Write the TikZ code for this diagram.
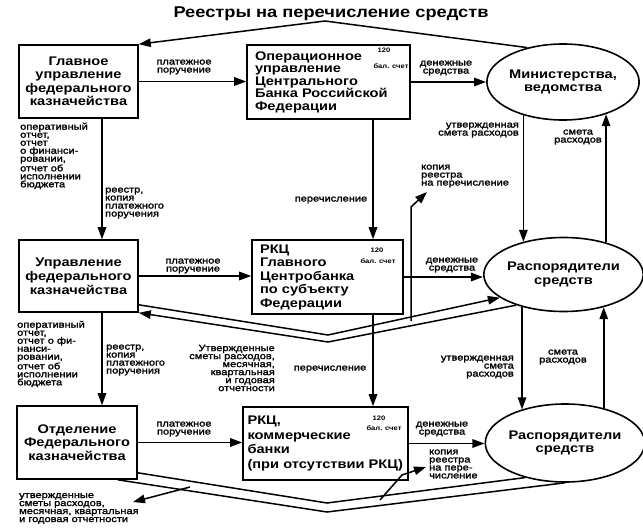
\documentclass[tikz,border=0pt]{standalone}
\usepackage{fontspec}
\setmainfont{Liberation Sans}[FakeStretch=1.17]
\newfontfamily\lblfont{Liberation Sans}[FakeStretch=1.2,FakeBold=1.8]
\usetikzlibrary{arrows.meta,shapes.geometric,calc}
\begin{document}
\begin{tikzpicture}[x=1pt,y=-1pt,
  box/.style={draw,line width=1.6pt,rectangle,inner sep=0pt,font=\bfseries\fontsize{12.5}{13.5}\selectfont},
  ell/.style={draw,line width=1.6pt,ellipse,inner sep=0pt,align=center,font=\bfseries\fontsize{12.5}{13.5}\selectfont},
  lbl/.style={inner sep=0pt,font=\lblfont\fontsize{9.2}{8}\selectfont},
  num/.style={inner sep=0pt,font=\bfseries\fontsize{6.5}{7}\selectfont},
  tip/.style={-{Triangle[length=12pt,width=8.5pt]}},
  ln/.style={line width=1.5pt},
  arr/.style={ln,tip}]
\useasboundingbox (0,0) rectangle (643,532);

% title
\node[font=\bfseries\fontsize{15.6}{17}\selectfont,inner sep=0pt] (title) at (331,14) {Реестры на перечисление средств};

% boxes
\node[box,minimum width=119pt,minimum height=73pt,align=center] (b1) at (78.5,81.5) {Главное\\управление\\федерального\\казначейства};
\node[box,minimum height=74pt,text width=147pt,inner xsep=8pt,align=left,font=\bfseries\fontsize{12.5}{12.5}\selectfont] (b2) at (328.5,82) {Операционное\\управление\\Центрального\\Банка Российской\\Федерации};
\node[box,minimum width=119pt,minimum height=72pt,align=center,font=\bfseries\fontsize{12.5}{14}\selectfont] (b3) at (78.5,276) {Управление\\федерального\\казначейства};
\node[box,minimum height=74pt,text width=135pt,inner xsep=8pt,align=left] (b4) at (327.5,277) {РКЦ\\Главного\\Центробанка\\по субъекту\\Федерации};
\node[box,minimum width=120pt,minimum height=73pt,align=center] (b5) at (77,442.5) {Отделение\\Федерального\\казначейства};
\node[box,minimum height=73pt,text width=156pt,inner xsep=4.5pt,align=left,font=\bfseries\fontsize{12.5}{14.5}\selectfont] (b6) at (325.5,443.5) {РКЦ,\\коммерческие\\банки\\(при~отсутствии~РКЦ)};

% ellipses
\node[ell,minimum width=140pt,minimum height=76pt] (e1) at (563,82) {Министерства,\\ведомства};
\node[ell,minimum width=143pt,minimum height=74pt] (e2) at (563.5,274.5) {Распорядители\\средств};
\node[ell,minimum width=144pt,minimum height=78pt] (e3) at (565,443) {Распорядители\\средств};

% account numbers
\node[num] (n1a) at (384,50) {120};
\node[num] (n1b) at (391,66) {бал. счет};
\node[num] (n2a) at (377,250) {120};
\node[num] (n2b) at (378,261) {бал. счет};
\node[num] (n3a) at (379,418) {120};
\node[num] (n3b) at (384,428) {бал. счет};

% coordinates
\coordinate (tpk) at (325,21);
\coordinate (xL) at (102,0);
\coordinate (xM) at (373,0);
\coordinate (mA) at (328,335);
\coordinate (mB) at (328,342);
\coordinate (mC) at (327,503);
\coordinate (mD) at (327,512);
\coordinate (cA) at (411,321);
\coordinate (cB) at (411,207);
\coordinate (cC) at (427,192);
\coordinate (a1) at (190,487);
\coordinate (a2) at (133,502);
\coordinate (a3) at (380,500);
\coordinate (a4) at (402,475);
\coordinate (a5) at (426,467);

% connectors
\draw[arr] (e1.136) -- (tpk) -- (b1.north east);
\draw[arr] (b1.east) -- (b1.east -| b2.west);
\draw[arr] (b2.east) -- (b2.east -| e1.west);
\draw[arr] (b3.east) -- (b3.east -| b4.west);
\draw[arr] (b4.east) -- (b4.east -| e2.west);
\draw[arr] (b5.east) -- (b5.east -| b6.west);
\draw[arr] (b6.east) -- (b6.east -| e3.west);

\draw[arr] (b1.south -| xL) -- (b3.north -| xL);
\draw[arr] (b3.south -| xL) -- (b5.north -| xL);
\draw[arr] (b2.south -| xM) -- (b4.north -| xM);
\draw[arr] (b4.south -| xM) -- (b6.north -| xM);

\draw[arr] (e1.220) -- (e1.220 |- e2.141);
\draw[arr] (e2.37) -- (e2.37 |- e1.-37);
\draw[arr] (e2.218) -- (e2.218 |- e3.142);
\draw[arr] (e3.42) -- (e3.42 |- e2.-39);

\draw[arr] ($(b3.south east)+(0,-8)$) -- (mA) -- (e2.200);
\draw[arr] (e2.213) -- (mB) -- (b3.south east);
\draw[ln] ($(b5.south east)+(0,-7)$) -- (mC) -- (e3.221);
\draw[ln] ($(b5.south east)+(-20,0)$) -- (mD) -- (e3.south);

\draw[arr] (cA) -- (cB) -- (cC);
\draw[arr] (a1) -- (a2);
\draw[arr] (a3) -- (a4) -- (a5);

% labels
\node[lbl,align=center] (l1) at (184,67) {платежное\\поручение};
\node[lbl,align=center] (l2) at (446,68) {денежные\\средства};
\node[lbl,align=left,anchor=west] (l3) at (20,156) {оперативный\\отчет,\\отчет\\о финанси-\\ровании,\\отчет об\\исполнении\\бюджета};
\node[lbl,align=left,anchor=west] (l4) at (105,203) {реестр,\\копия\\платежного\\поручения};
\node[lbl] (l5) at (331,200) {перечисление};
\node[lbl,align=right,anchor=east] (l6) at (519,130) {утвержденная\\смета расходов};
\node[lbl,align=center] (l7) at (578,137) {смета\\расходов};
\node[lbl,align=left,anchor=west] (l8) at (421,176) {копия\\реестра\\на перечисление};
\node[lbl,align=center] (l9) at (193,266) {платежное\\поручение};
\node[lbl,align=center] (l10) at (452,265) {денежные\\средства};
\node[lbl,align=left,anchor=west] (l11) at (17,354) {оперативный\\отчет,\\отчет о фи-\\нанси-\\ровании,\\отчет об\\исполнении\\бюджета};
\node[lbl,align=left,anchor=west] (l12) at (106,360) {реестр,\\копия\\платежного\\поручения};
\node[lbl,align=right,anchor=east] (l13) at (275,368) {Утвержденные\\сметы расходов,\\месячная,\\квартальная\\и годовая\\отчетности};
\node[lbl] (l14) at (330,369) {перечисление};
\node[lbl,align=right,anchor=east] (l15) at (514,367) {утвержденная\\смета\\расходов};
\node[lbl,align=center] (l16) at (563,357) {смета\\расходов};
\node[lbl,align=center] (l17) at (184,429) {платежное\\поручение};
\node[lbl,align=center] (l18) at (442,429) {денежные\\средства};
\node[lbl,align=left,anchor=west] (l19) at (429,464) {копия\\реестра\\на пере-\\числение};
\node[lbl,align=left,anchor=west] (l20) at (19,508.5) {утвержденные\\сметы расходов,\\месячная, квартальная\\и годовая отчетности};
\end{tikzpicture}
\end{document}
